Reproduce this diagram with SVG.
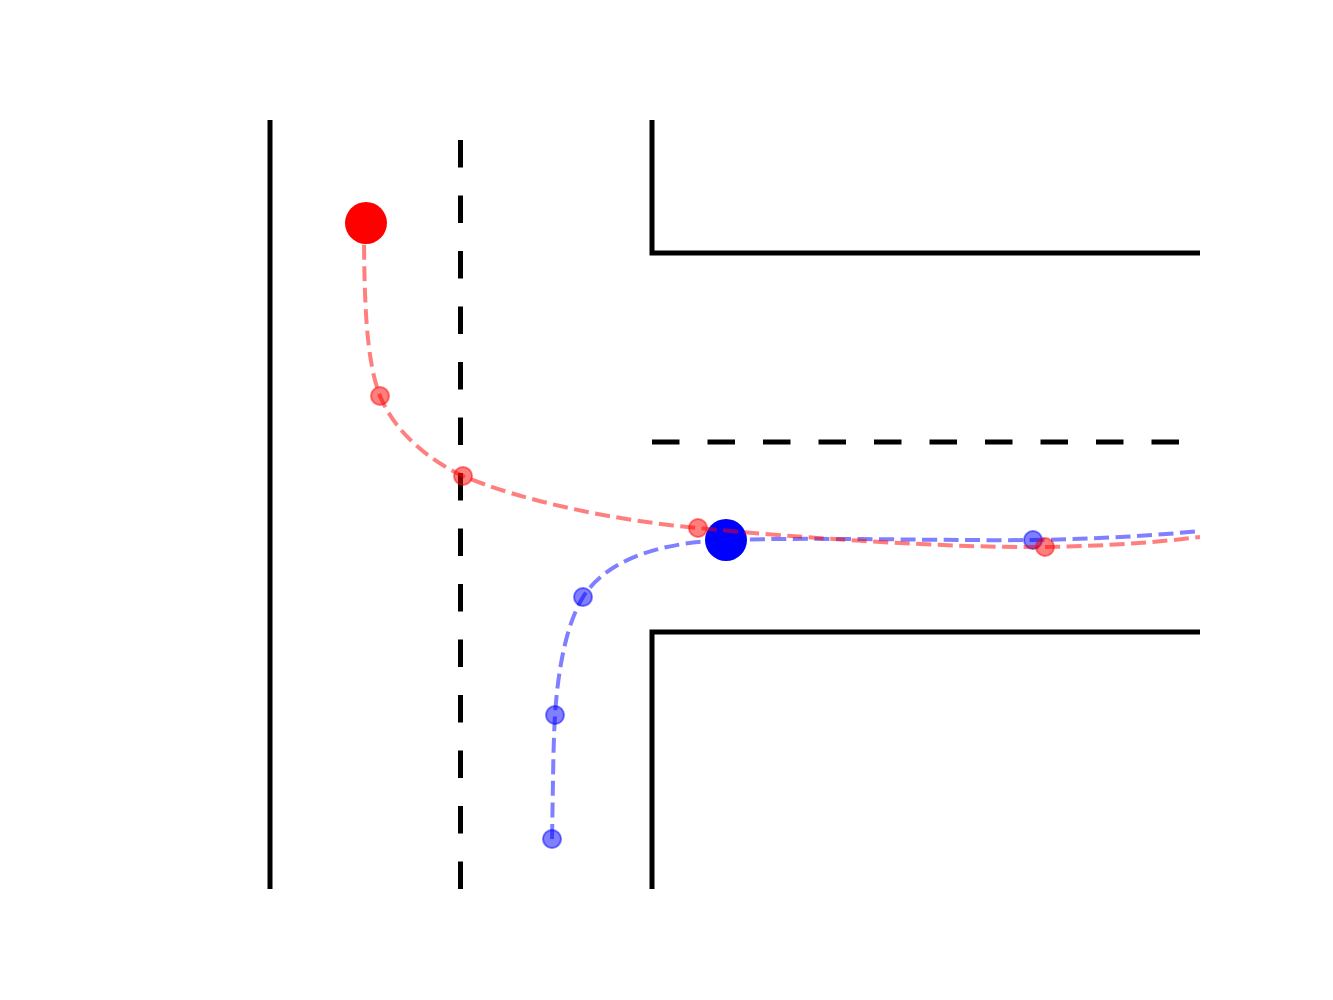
<svg xmlns="http://www.w3.org/2000/svg" width="1333" height="1000" viewBox="0 0 1333 1000">
<style>
.road{fill:none;stroke:#000;stroke-width:5;stroke-linecap:butt;stroke-linejoin:miter}
.lane{fill:none;stroke:#000;stroke-width:5;stroke-dasharray:27.5,28}
.tr{fill:none;stroke-width:4;stroke-dasharray:15,6.5;stroke-opacity:0.5}
.r{stroke:#ff0000}
.b{stroke:#0000ff}
.pr{fill:#ff0000;fill-opacity:0.5;stroke:#ff0000;stroke-opacity:0.5;stroke-width:2}
.pb{fill:#0000ff;fill-opacity:0.5;stroke:#0000ff;stroke-opacity:0.5;stroke-width:2}
</style>
<rect width="1333" height="1000" fill="#fff"/>
<g id="road">
<line class="road" x1="270" y1="120" x2="270" y2="889"/>
<polyline class="road" points="652,120 652,253 1200,253"/>
<polyline class="road" points="652,889 652,632 1200,632"/>
<line class="lane" x1="460.5" y1="140" x2="460.5" y2="889"/>
<line class="lane" x1="652" y1="442" x2="1200" y2="442"/>
</g>
<g id="connectors">
<path id="blue-path" class="tr b" d="M552,839 C553,790 553,750 555,715 C558,670 566,625 583,597 C610,555 670,542 726,540 C820,537 950,541 1033,540 C1100,539 1160,535 1200,531"/>
</g>
<g id="blue-points">
<circle class="pb" cx="552" cy="839" r="9"/>
<circle class="pb" cx="555" cy="715" r="9"/>
<circle class="pb" cx="583" cy="597" r="9"/>
<circle class="pb" cx="1033" cy="540" r="9"/>
</g>
<g id="blue-agent"><circle cx="726" cy="540" r="21" fill="#0000ff"/></g>
<g id="red-points">
<circle class="pr" cx="380" cy="396" r="9"/>
<circle class="pr" cx="463" cy="476" r="9"/>
<circle class="pr" cx="698" cy="528" r="9"/>
<circle class="pr" cx="1045" cy="547" r="9"/>
</g>
<g id="connectors-red">
<path id="red-path" class="tr r" d="M364,223 C364,300 366,360 380,396 C394,430 425,458 463,476 C520,500 610,520 698,528 C800,538 950,548 1045,547 C1110,546 1160,542 1200,537"/>
</g>
<g id="red-agent"><circle cx="366" cy="223" r="21" fill="#ff0000"/></g>
</svg>
